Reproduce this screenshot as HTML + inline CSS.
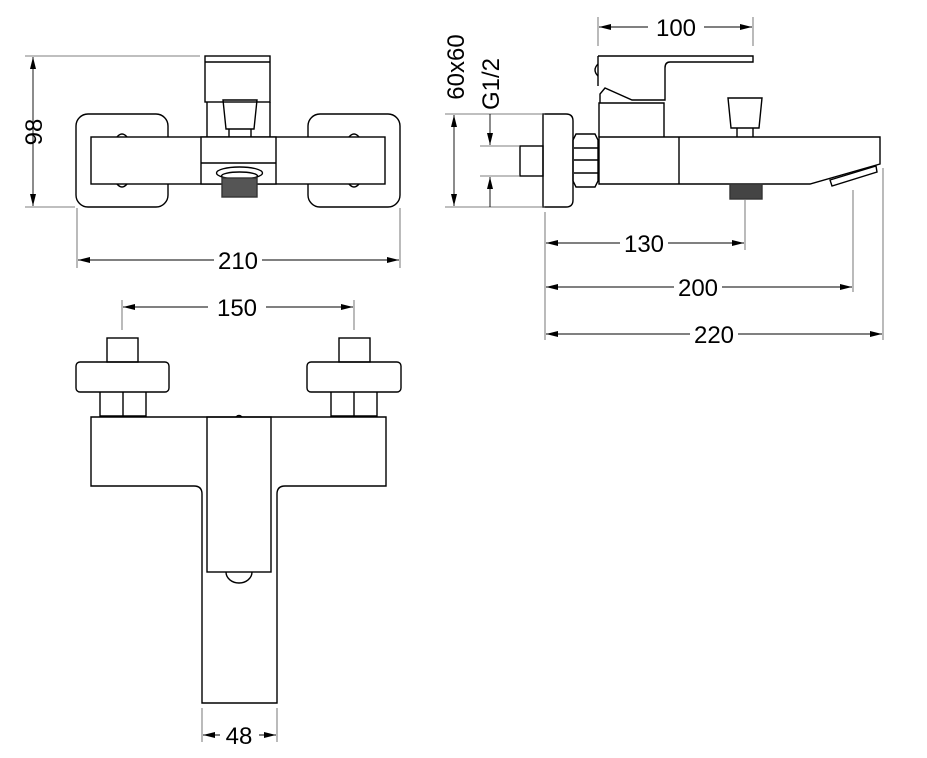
<!DOCTYPE html>
<html><head><meta charset="utf-8"><style>
html,body{margin:0;padding:0;background:#fff}
svg{display:block}
text{font-family:"Liberation Sans",Arial,sans-serif;font-size:24px;fill:#000}
</style></head><body>
<svg width="927" height="758" viewBox="0 0 927 758" xmlns="http://www.w3.org/2000/svg">
<defs>
<marker id="a" viewBox="0 0 12 6" refX="12" refY="3" markerWidth="12" markerHeight="6" orient="auto-start-reverse" markerUnits="userSpaceOnUse"><path d="M0,0 L12,3 L0,6z" fill="#000"/></marker>
</defs>
<g fill="none" stroke="#000" stroke-width="1.4">
<rect x="76" y="114" width="92" height="93" rx="12"/>
<rect x="308" y="114" width="92" height="93" rx="12"/>
<path d="M117,137 q5,-6 10,0 M117,184 q5,6 10,0 M349,137 q5,-6 10,0 M349,184 q5,6 10,0"/>
<rect x="91" y="137" width="294" height="47" fill="#fff"/>
<rect x="201" y="137" width="75" height="47" fill="#fff"/>
<line x1="201" y1="163" x2="276" y2="163"/>
<rect x="205" y="56" width="65" height="46"/>
<line x1="205" y1="62" x2="270" y2="62"/>
<path d="M207,102 V137 M270,102 V137"/>
<path d="M223,100 L257,100 L254,129 L226,129 Z"/>
<path d="M229,129 V137 M251,129 V137"/>
<ellipse cx="239.5" cy="173" rx="23" ry="6"/>
<ellipse cx="239.5" cy="176" rx="18" ry="4"/>
<rect x="222" y="178" width="35" height="19" fill="#555" stroke="#333"/>
<g stroke-width="0.8" stroke="#555">
<path d="M25,56 H200 M25,207 H75 M77,208 V268 M400,208 V268"/>
</g>
<line x1="33" y1="57" x2="33" y2="206" stroke-width="0.9" marker-start="url(#a)" marker-end="url(#a)"/>
<line x1="78" y1="260" x2="214" y2="260" stroke-width="0.9" marker-start="url(#a)"/>
<line x1="262" y1="260" x2="399" y2="260" stroke-width="0.9" marker-end="url(#a)"/>

<rect x="520" y="146" width="23" height="30"/>
<path d="M543,114 H566 Q573,114 573,121 V200 Q573,207 566,207 H543 Z"/>
<path d="M576,134 H595 L598,140 V181 L595,187 H576 L573,181 V140 Z"/>
<path d="M574,160 H598 M574,148 H598 M574,173 H598"/>
<path d="M599,137 H880 V164 L810,184 H599 Z"/>
<line x1="679" y1="137" x2="679" y2="184"/>
<path d="M599,137 V103 H664 V137"/>
<path d="M598,56 H753 V62 H670 Q665,62 665,68 V100 H632 L605,88 L600,94 V103 M598,56 V86"/>
<path d="M598,64 q-6,6 0,12"/>
<path d="M728,98 L762,98 L759,128 L731,128 Z"/>
<path d="M737,128 V137 M753,128 V137"/>
<rect x="730" y="184" width="32" height="15" fill="#444" stroke="#333"/>
<path d="M830,180 L876,166 L877,172 L832,186 Z"/>
<g stroke-width="0.8" stroke="#555">
<path d="M598,17 V46 M753,17 V46"/>
<path d="M445,114 H545 M445,207 H545 M480,146 H520 M480,176 H520"/>
<path d="M545,212 V340 M745,200 V250 M853,190 V292 M883,168 V340"/>
</g>
<line x1="599" y1="27" x2="648" y2="27" stroke-width="0.9" marker-start="url(#a)"/>
<line x1="704" y1="27" x2="752" y2="27" stroke-width="0.9" marker-end="url(#a)"/>
<line x1="454" y1="115" x2="454" y2="206" stroke-width="0.9" marker-start="url(#a)" marker-end="url(#a)"/>
<line x1="490" y1="114" x2="490" y2="145" stroke-width="0.9" marker-end="url(#a)"/>
<line x1="490" y1="207" x2="490" y2="177" stroke-width="0.9" marker-end="url(#a)"/>
<line x1="546" y1="243" x2="620" y2="243" stroke-width="0.9" marker-start="url(#a)"/>
<line x1="668" y1="243" x2="744" y2="243" stroke-width="0.9" marker-end="url(#a)"/>
<line x1="546" y1="287" x2="674" y2="287" stroke-width="0.9" marker-start="url(#a)"/>
<line x1="722" y1="287" x2="852" y2="287" stroke-width="0.9" marker-end="url(#a)"/>
<line x1="546" y1="334" x2="690" y2="334" stroke-width="0.9" marker-start="url(#a)"/>
<line x1="738" y1="334" x2="882" y2="334" stroke-width="0.9" marker-end="url(#a)"/>

<rect x="107" y="338" width="31" height="24"/>
<rect x="339" y="338" width="31" height="24"/>
<rect x="76" y="362" width="93" height="30" rx="4"/>
<rect x="307" y="362" width="94" height="30" rx="4"/>
<path d="M100,392 V416 H146 V392 M123,392 V416"/>
<path d="M331,392 V416 H377 V392 M354,392 V416"/>
<path d="M91,417 H386 V486 H285 Q277,486 277,494 V703 H202 V494 Q202,486 194,486 H91 Z"/>
<rect x="207" y="417" width="64" height="155"/>
<path d="M226,572 A13,11 0 0 0 252,572"/>
<path d="M236,417 q3,-3 6,0"/>
<g stroke-width="0.8" stroke="#555">
<path d="M122,300 V330 M354,300 V330 M202,708 V742 M277,708 V742"/>
</g>
<line x1="123" y1="307" x2="208" y2="307" stroke-width="0.9" marker-start="url(#a)"/>
<line x1="266" y1="307" x2="353" y2="307" stroke-width="0.9" marker-end="url(#a)"/>
<line x1="220" y1="735" x2="203" y2="735" stroke-width="0.9" marker-end="url(#a)"/>
<line x1="259" y1="735" x2="276" y2="735" stroke-width="0.9" marker-end="url(#a)"/>
</g>
<text x="238" y="269" text-anchor="middle">210</text>
<text x="42" y="132" text-anchor="middle" transform="rotate(-90 42 132)">98</text>
<text x="676" y="36" text-anchor="middle">100</text>
<text x="464" y="67" text-anchor="middle" transform="rotate(-90 464 67)">60x60</text>
<text x="499" y="84" text-anchor="middle" transform="rotate(-90 499 84)">G1/2</text>
<text x="644" y="252" text-anchor="middle">130</text>
<text x="698" y="296" text-anchor="middle">200</text>
<text x="714" y="343" text-anchor="middle">220</text>
<text x="237" y="316" text-anchor="middle">150</text>
<text x="239" y="744" text-anchor="middle">48</text>
</svg>
</body></html>
